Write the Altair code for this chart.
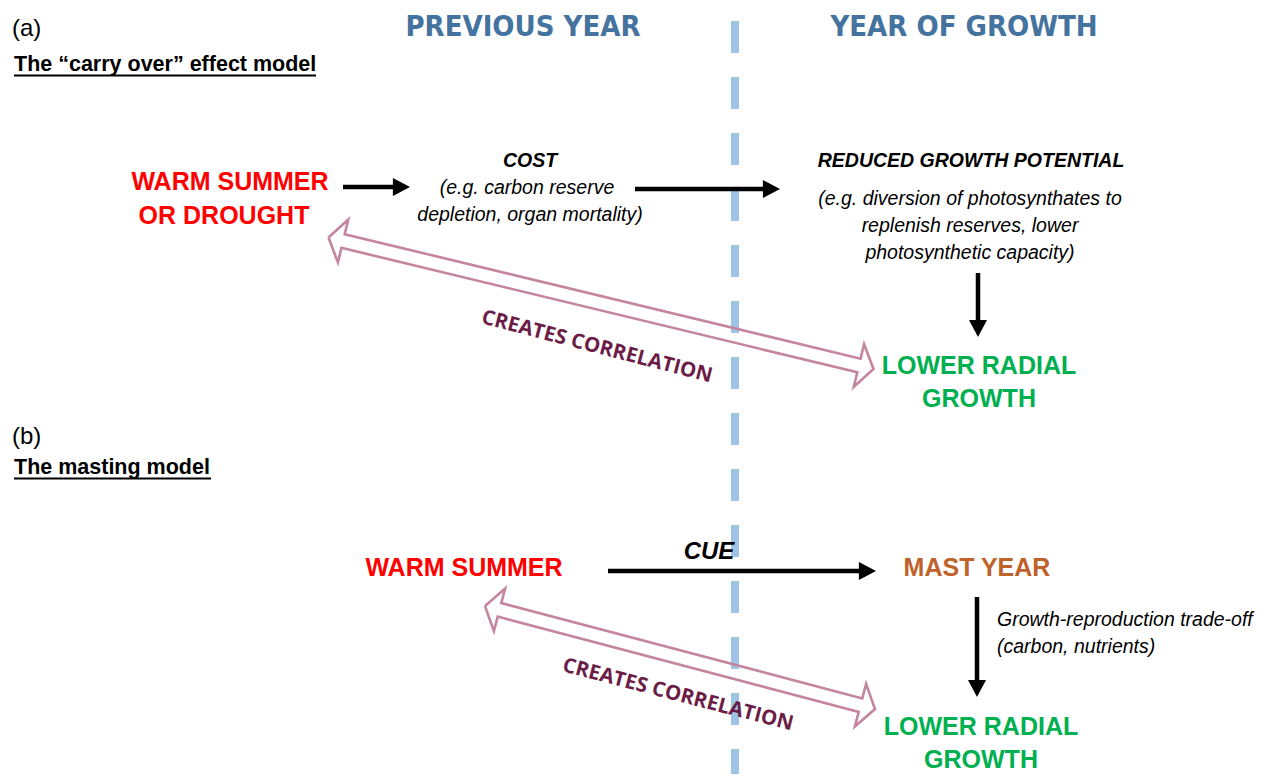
import altair as alt
import pandas as pd
import numpy as np

# ---------------- fonts & colours ----------------
FONT = "Liberation Sans, Arial, Helvetica, sans-serif"
NARROW = "Liberation Sans Narrow, Arial Narrow, DejaVu Sans Condensed, sans-serif"
CORR_FONT = "Open Sans, Lato, Calibri, sans-serif"
BLUE_HDR = "#44739F"
DASH_BLUE = "#9DC3E6"
RED = "#FF0000"
GREEN = "#00B050"
BROWN = "#C0622B"
PINK = "#C4859F"
MAROON = "#6B1D47"

# ---------------- texts ----------------
panel_labels = ["(a)", "(b)"]
panel_label_x = [12, 12]
panel_label_y = [29, 437]

panel_titles = ["The \u201ccarry over\u201d effect model", "The masting model"]
panel_title_x = [14, 14]
panel_title_y = [65, 468]
underline_x = [14, 14]
underline_x2 = [316, 211]
underline_y = [75.5, 478.5]

headers = ["PREVIOUS YEAR", "YEAR OF GROWTH"]
header_x = [523, 964]
header_y = [27, 27]

red_texts = ["WARM SUMMER", "OR DROUGHT", "WARM SUMMER"]
red_x = [230, 224, 464]
red_y = [182, 216, 568]

green_texts = ["LOWER RADIAL", "GROWTH", "LOWER RADIAL", "GROWTH"]
green_x = [979, 979, 981, 981]
green_y = [366, 399, 727, 760]

brown_texts = ["MAST YEAR"]
brown_x = [977]
brown_y = [568]

bold_italic_texts = ["COST", "REDUCED GROWTH POTENTIAL"]
bold_italic_x = [530, 971]
bold_italic_y = [161, 161]

italic_texts = ["(e.g. carbon reserve", "depletion, organ mortality)",
                "(e.g. diversion of photosynthates to", "replenish reserves, lower",
                "photosynthetic capacity)"]
italic_x = [527, 530, 970, 970, 970]
italic_y = [188, 215, 199, 226, 253]

italic_left_texts = ["Growth-reproduction trade-off", "(carbon, nutrients)"]
italic_left_x = [997, 997]
italic_left_y = [620, 647]

cue_texts = ["CUE"]
cue_x = [709]
cue_y = [552]

corr_texts = ["CREATES CORRELATION", "CREATES CORRELATION"]
corr_x = [597, 678]
corr_y = [347, 695]
corr_angle = 14.5

# ---------------- arrows ----------------
# solid black arrows: start -> tip
solid_start_x = [343, 635, 978, 608, 977]
solid_start_y = [187, 189, 273, 571, 597]
solid_tip_x = [410, 780, 978, 876, 977]
solid_tip_y = [187, 189, 337, 571, 697]

# hollow double-headed arrows: tip A <-> tip B
hollow_a_x = [328.5, 485]
hollow_a_y = [237.5, 606]
hollow_b_x = [873.5, 875]
hollow_b_y = [369, 709]

# dashed divider
divider_x = [735]
divider_y = [21]
divider_y2 = [790]

# ---------------- scales ----------------
XS = alt.Scale(domain=[8, 1258], nice=False, zero=False)
YS = alt.Scale(domain=[8, 774], nice=False, zero=False, reverse=True)


def X(f="x"):
    return alt.X(f"{f}:Q", scale=XS, axis=None)


def Y(f="y"):
    return alt.Y(f"{f}:Q", scale=YS, axis=None)


def text_layer(texts, xs, ys, **mark):
    df = pd.DataFrame({"t": texts, "x": xs, "y": ys})
    return alt.Chart(df).mark_text(**mark).encode(x=X(), y=Y(), text="t:N")


layers = []

# dashed divider
div_df = pd.DataFrame({"x": divider_x, "y": divider_y, "y2": divider_y2})
layers.append(
    alt.Chart(div_df).mark_rule(color=DASH_BLUE, strokeWidth=8, strokeDash=[32, 24], strokeCap="butt")
    .encode(x=X(), y=Y(), y2="y2:Q")
)

# hollow double arrows (outline polygons built from the two tips)
HL, HH, HW = 15.0, 22.0, 7.0
rows = []
for k in range(len(hollow_a_x)):
    A = np.array([hollow_a_x[k], hollow_a_y[k]], float)
    B = np.array([hollow_b_x[k], hollow_b_y[k]], float)
    u = (B - A) / np.linalg.norm(B - A)
    n = np.array([-u[1], u[0]])
    pts = [A,
           A + HL * u - HH * n, A + HL * u - HW * n,
           B - HL * u - HW * n, B - HL * u - HH * n,
           B,
           B - HL * u + HH * n, B - HL * u + HW * n,
           A + HL * u + HW * n, A + HL * u + HH * n,
           A]
    for i, p in enumerate(pts):
        rows.append({"arrow": k, "i": i, "x": p[0], "y": p[1]})
hol_df = pd.DataFrame(rows)
layers.append(
    alt.Chart(hol_df).mark_line(color=PINK, strokeWidth=2.6, strokeJoin="miter")
    .encode(x=X(), y=Y(), detail="arrow:N", order=alt.Order("i:Q"))
)

# solid black arrows
R = 9.0
shaft_rows, head_right, head_down = [], [], []
for k in range(len(solid_tip_x)):
    S = np.array([solid_start_x[k], solid_start_y[k]], float)
    T = np.array([solid_tip_x[k], solid_tip_y[k]], float)
    u = (T - S) / np.linalg.norm(T - S)
    end = T - 12 * u
    c = T - R * u
    shaft_rows.append({"x": S[0], "y": S[1], "x2": end[0], "y2": end[1]})
    if abs(u[0]) > abs(u[1]):
        head_right.append({"x": c[0], "y": c[1]})
    else:
        head_down.append({"x": c[0], "y": c[1]})

layers.append(
    alt.Chart(pd.DataFrame(shaft_rows)).mark_rule(color="black", strokeWidth=4.5)
    .encode(x=X(), y=Y(), x2="x2:Q", y2="y2:Q")
)
layers.append(
    alt.Chart(pd.DataFrame(head_right)).mark_point(
        shape="M1,0 L-0.9,-1 L-0.9,1 Z", filled=True, color="black", opacity=1, size=(2 * R) ** 2, strokeWidth=0)
    .encode(x=X(), y=Y())
)
layers.append(
    alt.Chart(pd.DataFrame(head_down)).mark_point(
        shape="M0,1 L-1,-0.9 L1,-0.9 Z", filled=True, color="black", opacity=1, size=(2 * R) ** 2, strokeWidth=0)
    .encode(x=X(), y=Y())
)

# underlines
ul_df = pd.DataFrame({"x": underline_x, "x2": underline_x2, "y": underline_y})
layers.append(
    alt.Chart(ul_df).mark_rule(color="black", strokeWidth=2)
    .encode(x=X(), x2="x2:Q", y=Y())
)

# texts
layers.append(text_layer(panel_labels, panel_label_x, panel_label_y, font=FONT, fontSize=24,
                         align="left", baseline="middle", color="black"))
layers.append(text_layer(panel_titles, panel_title_x, panel_title_y, font=FONT, fontSize=21.5,
                         fontWeight="bold", align="left", baseline="middle", color="black"))
layers.append(text_layer(headers, header_x, header_y, font=NARROW, fontSize=29,
                         fontWeight="bold", align="center", baseline="middle", color=BLUE_HDR))
layers.append(text_layer(red_texts, red_x, red_y, font=FONT, fontSize=25,
                         fontWeight="bold", align="center", baseline="middle", color=RED))
layers.append(text_layer(green_texts, green_x, green_y, font=FONT, fontSize=25,
                         fontWeight="bold", align="center", baseline="middle", color=GREEN))
layers.append(text_layer(brown_texts, brown_x, brown_y, font=FONT, fontSize=25,
                         fontWeight="bold", align="center", baseline="middle", color=BROWN))
layers.append(text_layer(bold_italic_texts, bold_italic_x, bold_italic_y, font=FONT, fontSize=19.5,
                         fontWeight="bold", fontStyle="italic", align="center", baseline="middle",
                         color="black"))
layers.append(text_layer(italic_texts, italic_x, italic_y, font=FONT, fontSize=19.5,
                         fontStyle="italic", align="center", baseline="middle", color="black"))
layers.append(text_layer(italic_left_texts, italic_left_x, italic_left_y, font=FONT, fontSize=19.5,
                         fontStyle="italic", align="left", baseline="middle", color="black"))
layers.append(text_layer(cue_texts, cue_x, cue_y, font=FONT, fontSize=24,
                         fontWeight="bold", fontStyle="italic", align="center", baseline="middle",
                         color="black"))
layers.append(text_layer(corr_texts, corr_x, corr_y, font=CORR_FONT, fontSize=20.5,
                         fontWeight="bold", align="center", baseline="middle", color=MAROON,
                         angle=corr_angle))

chart = (
    alt.layer(*layers)
    .properties(width=1250, height=766, padding=0, autosize=alt.AutoSizeParams(type="none"),
                background="white")
    .configure_view(stroke=None)
)

chart.save("out.html", embed_options={"renderer": "svg", "actions": False})
